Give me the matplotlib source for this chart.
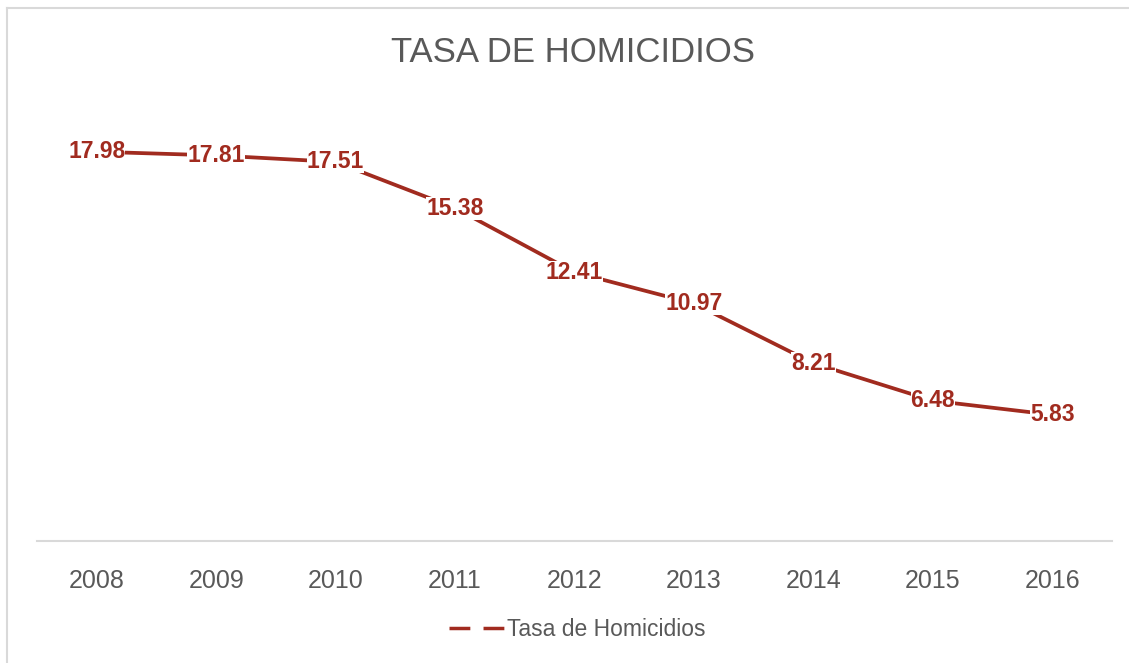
import matplotlib
matplotlib.use("Agg")
import matplotlib.pyplot as plt
from matplotlib.lines import Line2D

years = ["2008", "2009", "2010", "2011", "2012", "2013", "2014", "2015", "2016"]
tasa = [17.98, 17.81, 17.51, 15.38, 12.41, 10.97, 8.21, 6.48, 5.83]
series_name = "Tasa de Homicidios"
title = "TASA DE HOMICIDIOS"

RED = "#A12B1F"
GRAY = "#595959"

W, H = 1129, 663
fig = plt.figure(figsize=(W / 100, H / 100), dpi=100)
fig.patch.set_facecolor("white")

ax = fig.add_axes([37 / W, 1 - 541 / H, (1112 - 37) / W, (541 - 108) / H])
x = list(range(len(years)))
ax.plot(x, tasa, color=RED, lw=2.7, solid_capstyle="butt", zorder=2)
for xi, v in zip(x, tasa):
    ax.text(xi, v, f"{v:.2f}", ha="center", va="center", fontsize=16.5,
            fontweight="bold", color=RED, family=["Liberation Sans", "DejaVu Sans"],
            bbox=dict(boxstyle="square,pad=0.0", fc="white", ec="none"), zorder=3)

ax.set_xlim(-0.5, len(years) - 0.5)
ax.set_ylim(0, 20)
ax.set_yticks([])
ax.set_xticks(x)
ax.set_xticklabels(years, fontsize=18, color=GRAY, family=["Liberation Sans", "DejaVu Sans"])
ax.tick_params(axis="x", length=0, pad=20)
for s in ["top", "right", "left"]:
    ax.spines[s].set_visible(False)
ax.spines["bottom"].set_color("#D9D9D9")
ax.spines["bottom"].set_linewidth(1.5)

fig.text(573 / W, 1 - 52 / H, title, ha="center", va="center", fontsize=25,
         color=GRAY, family=["Liberation Sans Narrow", "Liberation Sans", "DejaVu Sans"])

handle = Line2D([], [], color=RED, lw=2.5, linestyle=(0, (6.0, 3.8)))
fig.legend([handle], [series_name], loc="center", bbox_to_anchor=(577 / W, 1 - 630 / H),
           frameon=False, prop=dict(family=["Liberation Sans", "DejaVu Sans"], size=16.5),
           labelcolor=GRAY, handlelength=2.45, handletextpad=0.1)

# outer border (top and left only visible)
fig.add_artist(Line2D([7 / W, 1], [1 - 8 / H, 1 - 8 / H], transform=fig.transFigure,
                      color="#D9D9D9", lw=1.5))
fig.add_artist(Line2D([7 / W, 7 / W], [0, 1 - 8 / H], transform=fig.transFigure,
                      color="#D9D9D9", lw=1.5))

fig.savefig("out.png", dpi=100, facecolor="white")
